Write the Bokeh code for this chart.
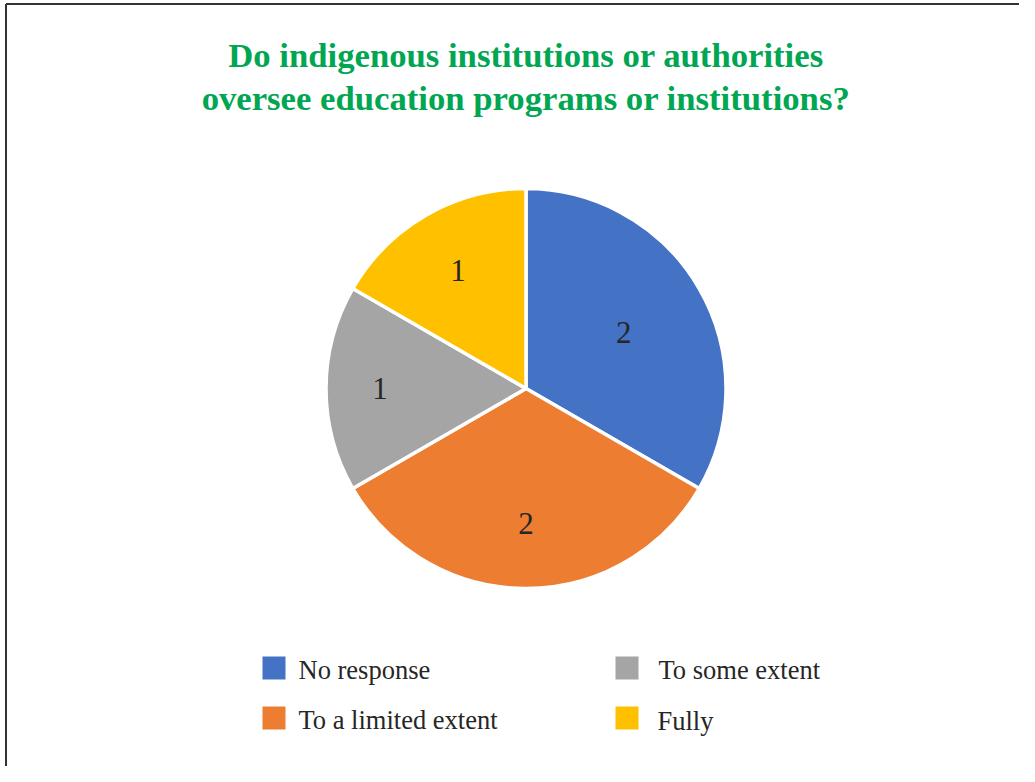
import math
from bokeh.plotting import figure
from bokeh.models import Range1d, ColumnDataSource
from bokeh.core.properties import value
from bokeh.embed import file_html
from bokeh.resources import INLINE

# ---- data ----
categories = ["No response", "To a limited extent", "To some extent", "Fully"]
counts = [2, 2, 1, 1]
colors = ["#4472C4", "#ED7D31", "#A5A5A5", "#FFC000"]
title_lines = ["Do indigenous institutions or authorities",
               "oversee education programs or institutions?"]

# ---- layout helpers (reference pixel -> data) ----
W, H = 1019, 766
def px(x):
    return x
def py(y):
    return H - y

p = figure(width=W, height=H, output_backend="svg", toolbar_location=None,
           x_range=Range1d(0, W), y_range=Range1d(0, H), min_border=0)
p.axis.visible = False
p.grid.visible = False
p.outline_line_color = None
p.background_fill_color = "white"
p.border_fill_color = "white"

# frame border (top and left visible in the crop)
p.segment(x0=[px(5.5), px(5.5)], y0=[py(3.5), py(3.5)],
          x1=[px(1040), px(5.5)], y1=[py(3.5), py(800)],
          line_color="#333333", line_width=2)

# ---- title ----
p.text(x=[px(525.5), px(525.5)], y=[py(55), py(97.5)], text=title_lines,
       text_font=value("Liberation Serif"), text_font_style="bold",
       text_font_size="34.7px", text_color="#00A651",
       text_align="center", text_baseline="middle")

# ---- pie ----
cx, cy, R = px(525.5), py(388), 200
total = sum(counts)
starts, ends, mids = [], [], []
acc = 0
for c in counts:
    a0 = math.pi / 2 - 2 * math.pi * acc / total
    acc += c
    a1 = math.pi / 2 - 2 * math.pi * acc / total
    starts.append(a0)
    ends.append(a1)
    mids.append((a0 + a1) / 2)

src = ColumnDataSource(dict(start=starts, end=ends, color=colors))
p.wedge(x=cx, y=cy, radius=R, radius_units="screen",
        start_angle="start", end_angle="end", direction="clock",
        fill_color="color", line_color="white", line_width=3.5, source=src)

label_r = [113, 135, 146, 136]
lx = [cx + r * math.cos(m) for r, m in zip(label_r, mids)]
ly = [cy + r * math.sin(m) for r, m in zip(label_r, mids)]
p.text(x=lx, y=ly, text=[str(c) for c in counts],
       text_font=value("Liberation Serif"), text_font_size="31px",
       text_color="#262626", text_align="center", text_baseline="middle")

# ---- legend ----
sq_x = [px(273.5), px(273.5), px(626.5), px(626.5)]
sq_y = [py(667.5), py(717.5), py(667.5), py(717.5)]
tx = [px(298), px(298), px(658), px(657)]
ty = [py(669), py(719), py(669), py(720)]
p.rect(x=sq_x, y=sq_y, width=23, height=23, width_units="screen",
       height_units="screen", fill_color=colors, line_color=None)
p.text(x=tx, y=ty, text=categories, text_font=value("Liberation Serif"),
       text_font_size="26.5px", text_color="#262626",
       text_align="left", text_baseline="middle")

open("out.html", "w").write(file_html(p, INLINE))
